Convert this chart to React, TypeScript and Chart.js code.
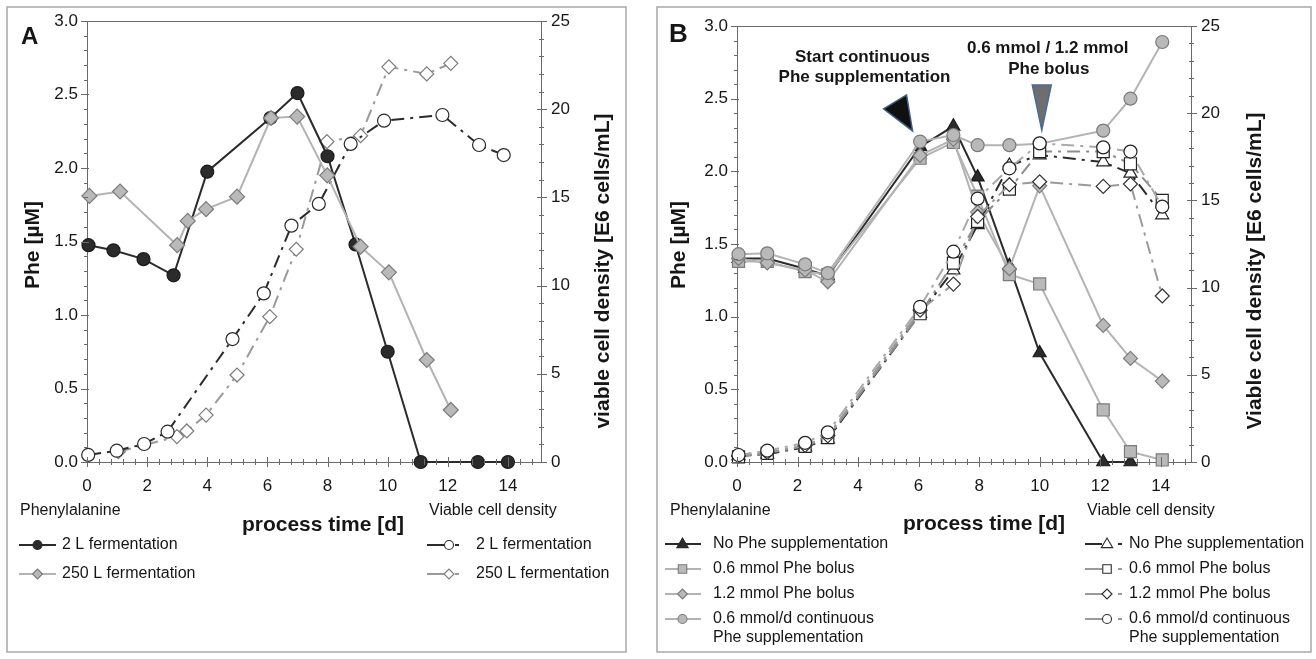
import React, { useEffect, useRef } from "react";
import { Chart, registerables } from "chart.js";

Chart.register(...registerables);

const FONT = "'Liberation Sans', Arial, Helvetica, sans-serif";
const AXIS = "#6a6a6a";
const TEXT = "#161616";
const DARK = "#2b2b2b";
const GRAY_FILL = "#b9b9b9";
const GRAY_EDGE = "#7b7b7b";
const GRAY_LINE = "#b3b3b3";
const DASH_GRAY = "#9a9a9a";
const PANEL_BORDER = "#a8a8a8";

// ---------------- Panel A data ----------------
const A_X_TICKS = [0, 2, 4, 6, 8, 10, 12, 14];
const A_PHE_2L_DAYS = [0.05, 0.88, 1.88, 2.88, 4.0, 6.1, 7.0, 8.0, 8.93, 10.0, 11.1, 13.0, 14.0];
const A_PHE_2L = [1.475, 1.44, 1.38, 1.27, 1.975, 2.34, 2.51, 2.08, 1.48, 0.75, 0, 0, 0];
const A_PHE_250L_DAYS = [0.08, 1.1, 3.0, 3.35, 3.96, 4.99, 6.12, 6.99, 7.99, 9.1, 10.04, 11.3, 12.1];
const A_PHE_250L = [1.81, 1.84, 1.475, 1.64, 1.72, 1.805, 2.34, 2.35, 1.95, 1.465, 1.29, 0.694, 0.354];
const A_VCD_2L_DAYS = [0.04, 0.99, 1.9, 2.68, 4.84, 5.88, 6.8, 7.71, 8.77, 9.88, 11.82, 13.04, 13.86];
const A_VCD_2L = [0.4, 0.64, 1.02, 1.72, 6.97, 9.56, 13.4, 14.63, 18.03, 19.35, 19.67, 17.97, 17.4];
const A_VCD_250L_DAYS = [1.04, 2.99, 3.32, 3.96, 4.99, 6.08, 6.96, 7.98, 9.1, 10.04, 11.3, 12.1];
const A_VCD_250L = [0.58, 1.44, 1.76, 2.66, 4.93, 8.24, 12.06, 18.16, 18.5, 22.4, 22.0, 22.6];

// ---------------- Panel B data ----------------
const B_X_TICKS = [0, 2, 4, 6, 8, 10, 12, 14];
const B_DAYS = [0.05, 1.0, 2.25, 3.0, 6.05, 7.15, 7.95, 9.0, 10.0, 12.1, 13.0, 14.05];
const B_PHE_NONE = [1.4, 1.4, 1.33, 1.28, 2.17, 2.31, 1.96, 1.35, 0.75, 0.0, 0.0];
const B_PHE_BOLUS06 = [1.38, 1.38, 1.31, 1.29, 2.09, 2.2, 1.83, 1.29, 1.225, 0.358, 0.071, 0.014];
const B_PHE_BOLUS12 = [1.4, 1.37, 1.32, 1.24, 2.11, 2.22, 1.72, 1.33, 1.9, 0.94, 0.713, 0.557];
const B_PHE_CONT = [1.43, 1.436, 1.36, 1.3, 2.205, 2.25, 2.18, 2.18, 2.19, 2.28, 2.5, 2.89];
const B_VCD_NONE = [0.35, 0.45, 0.85, 1.3, 8.5, 11.0, 13.6, 17.0, 17.6, 17.2, 16.55, 14.16];
const B_VCD_BOLUS06 = [0.3, 0.5, 0.9, 1.4, 8.5, 11.4, 13.8, 15.65, 17.8, 17.8, 17.1, 15.0];
const B_VCD_BOLUS12 = [0.35, 0.55, 0.95, 1.5, 8.7, 10.2, 14.07, 15.9, 16.07, 15.8, 15.94, 9.52];
const B_VCD_CONT = [0.4, 0.65, 1.1, 1.7, 8.9, 12.06, 15.1, 16.84, 18.27, 18.04, 17.8, 14.64];
const B_ANNOT_START = { day: 5.8, phe: 2.278 };
const B_ANNOT_BOLUS = { day: 10.07, phe: 2.284 };

const Y_LEFT_TICK_STEP = 0.5;
const Y_RIGHT_TICK_STEP = 5;

const pts = (xs: number[], ys: number[]) => ys.map((y, i) => ({ x: xs[i], y }));

type MarkerKind = "circle" | "rectRot" | "rect" | "triangle";

function drawMarker(
  ctx: CanvasRenderingContext2D,
  kind: MarkerKind,
  x: number,
  y: number,
  r: number,
  fill: string,
  stroke: string,
  lw = 1
) {
  ctx.beginPath();
  if (kind === "circle") ctx.arc(x, y, r, 0, Math.PI * 2);
  else if (kind === "rectRot") {
    ctx.moveTo(x - r, y);
    ctx.lineTo(x, y - r);
    ctx.lineTo(x + r, y);
    ctx.lineTo(x, y + r);
    ctx.closePath();
  } else if (kind === "rect") {
    ctx.rect(x - r * 0.85, y - r * 0.85, r * 1.7, r * 1.7);
  } else {
    ctx.moveTo(x, y - r);
    ctx.lineTo(x + r * 0.95, y + r * 0.6);
    ctx.lineTo(x - r * 0.95, y + r * 0.6);
    ctx.closePath();
  }
  ctx.fillStyle = fill;
  ctx.fill();
  ctx.strokeStyle = stroke;
  ctx.lineWidth = lw;
  ctx.stroke();
}

function hline(ctx: CanvasRenderingContext2D, x0: number, x1: number, y: number, color: string, w = 2) {
  ctx.beginPath();
  ctx.moveTo(x0, y);
  ctx.lineTo(x1, y);
  ctx.strokeStyle = color;
  ctx.lineWidth = w;
  ctx.stroke();
}

type LegendItem = {
  lines: string[];
  marker: MarkerKind;
  fill: string;
  stroke: string;
  line: string;
};

type LegendBlock = {
  lineX0: number;
  lineX1: number;
  markerX: number;
  dash?: [number, number];
  textX: number;
  rows: number[];
  items: LegendItem[];
};

type Txt = { text: string; x: number; y: number };

type Spec = {
  border: [number, number, number, number];
  letter: Txt & { size: number };
  leftTitle: Txt;
  rightTitle: Txt;
  xTitle: Txt;
  heads: Txt[];
  legends: LegendBlock[];
  annotate?: (ctx: CanvasRenderingContext2D, chart: any) => void;
};

function drawTicks(ctx: CanvasRenderingContext2D, chart: any) {
  const xs = chart.scales.x;
  const y = chart.scales.y;
  const y1 = chart.scales.y1;
  const { left, right, top, bottom } = chart.chartArea;
  ctx.save();
  ctx.strokeStyle = AXIS;
  ctx.lineWidth = 1;
  // plot frame top
  ctx.beginPath();
  ctx.moveTo(left, Math.round(top) + 0.5);
  ctx.lineTo(right, Math.round(top) + 0.5);
  ctx.stroke();
  // x ticks (minor every 0.4 d, major every 2 d)
  const nx = Math.floor(xs.max / 0.4 + 1e-6);
  for (let i = 0; i <= nx; i++) {
    const major = i % 5 === 0;
    const px = Math.round(xs.getPixelForValue(i * 0.4)) + 0.5;
    ctx.beginPath();
    ctx.moveTo(px, bottom - (major ? 5 : 3));
    ctx.lineTo(px, bottom + (major ? 5 : 3));
    ctx.stroke();
  }
  // left y ticks (minor 0.1)
  for (let i = 0; i <= 30; i++) {
    const major = i % 5 === 0;
    const py = Math.round(y.getPixelForValue(i * 0.1)) + 0.5;
    ctx.beginPath();
    ctx.moveTo(left - (major ? 6 : 3), py);
    ctx.lineTo(left + (major ? 2 : 1), py);
    ctx.stroke();
  }
  // right y ticks (minor 1)
  for (let i = 0; i <= 25; i++) {
    const major = i % 5 === 0;
    const py = Math.round(y1.getPixelForValue(i)) + 0.5;
    ctx.beginPath();
    ctx.moveTo(right - (major ? 4 : 2), py);
    ctx.lineTo(right + (major ? 6 : 3), py);
    ctx.stroke();
  }
  ctx.restore();
}

function makeDecor(spec: Spec) {
  return {
    id: "decor",
    afterDraw(chart: any) {
      const ctx: CanvasRenderingContext2D = chart.ctx;
      drawTicks(ctx, chart);
      ctx.save();
      // panel border
      const [bx0, by0, bx1, by1] = spec.border;
      ctx.strokeStyle = PANEL_BORDER;
      ctx.lineWidth = 1.5;
      ctx.strokeRect(bx0, by0, bx1 - bx0, by1 - by0);

      ctx.fillStyle = TEXT;
      ctx.textBaseline = "alphabetic";
      ctx.textAlign = "left";
      ctx.font = `bold ${spec.letter.size}px ${FONT}`;
      ctx.fillText(spec.letter.text, spec.letter.x, spec.letter.y);

      ctx.textBaseline = "middle";
      ctx.textAlign = "center";
      ctx.font = `bold 21px ${FONT}`;
      for (const t of [spec.leftTitle, spec.rightTitle]) {
        ctx.save();
        ctx.translate(t.x, t.y);
        ctx.rotate(-Math.PI / 2);
        ctx.fillText(t.text, 0, 0);
        ctx.restore();
      }
      ctx.fillText(spec.xTitle.text, spec.xTitle.x, spec.xTitle.y);

      ctx.textAlign = "left";
      ctx.font = `16px ${FONT}`;
      for (const h of spec.heads) ctx.fillText(h.text, h.x, h.y);

      for (const lg of spec.legends) {
        lg.items.forEach((it, i) => {
          const yy = lg.rows[i];
          hline(ctx, lg.lineX0, lg.lineX1, yy, it.line, 2);
          const r = it.marker === "rect" ? 5 : it.marker === "triangle" ? 6 : it.marker === "rectRot" ? 5 : 4.5;
          drawMarker(ctx, it.marker, lg.markerX, yy, r, it.fill, it.stroke, 1.1);
          if (lg.dash) hline(ctx, lg.dash[0], lg.dash[1], yy, it.line, 2);
          ctx.fillStyle = TEXT;
          ctx.font = `16px ${FONT}`;
          it.lines.forEach((ln, k) => ctx.fillText(ln, lg.textX, yy + k * 19));
        });
      }
      if (spec.annotate) spec.annotate(ctx, chart);
      ctx.restore();
    },
  };
}

function scales(leftW: number, rightW: number, xMax: number, xTicks: number[]) {
  const tickFont = { family: FONT, size: 17 };
  const grid = { display: false, drawTicks: false };
  return {
    x: {
      type: "linear",
      min: 0,
      max: xMax,
      grid,
      border: { display: true, color: AXIS, width: 1 },
      ticks: {
        font: tickFont,
        color: TEXT,
        padding: 14,
        autoSkip: false,
        maxRotation: 0,
        callback: (v: any) => String(v),
      },
      afterBuildTicks: (s: any) => {
        s.ticks = xTicks.map((v) => ({ value: v }));
      },
      afterFit: (s: any) => {
        s.height = 197;
      },
    },
    y: {
      type: "linear",
      position: "left",
      min: 0,
      max: 3,
      grid,
      border: { display: true, color: AXIS, width: 1 },
      ticks: {
        stepSize: Y_LEFT_TICK_STEP,
        font: tickFont,
        color: TEXT,
        padding: 9,
        callback: (v: any) => Number(v).toFixed(1),
      },
      afterFit: (s: any) => {
        s.width = leftW;
      },
    },
    y1: {
      type: "linear",
      position: "right",
      min: 0,
      max: 25,
      grid,
      border: { display: true, color: AXIS, width: 1 },
      ticks: {
        stepSize: Y_RIGHT_TICK_STEP,
        font: tickFont,
        color: TEXT,
        padding: 10,
        callback: (v: any) => String(v),
      },
      afterFit: (s: any) => {
        s.width = rightW;
      },
    },
  };
}

const VCD_DASH = [13, 6, 3, 6];

function ds(
  label: string,
  data: { x: number; y: number }[],
  axis: string,
  line: string,
  marker: MarkerKind,
  r: number,
  fill: string,
  edge: string,
  dash: number[] = []
) {
  return {
    type: "line",
    label,
    data,
    yAxisID: axis,
    borderColor: line,
    borderWidth: 2,
    borderDash: dash,
    pointStyle: marker,
    pointRadius: r,
    pointBackgroundColor: fill,
    pointBorderColor: edge,
    pointBorderWidth: 1.2,
    tension: 0,
    clip: false,
  };
}

function configA() {
  const spec: Spec = {
    border: [7, 7, 626, 652],
    letter: { text: "A", x: 21, y: 44, size: 24 },
    leftTitle: { text: "Phe [\u00b5M]", x: 33, y: 245 },
    rightTitle: { text: "viable cell density [E6 cells/mL]", x: 603, y: 271 },
    xTitle: { text: "process time [d]", x: 323, y: 525 },
    heads: [
      { text: "Phenylalanine", x: 20, y: 511 },
      { text: "Viable cell density", x: 429, y: 511 },
    ],
    legends: [
      {
        lineX0: 19,
        lineX1: 56,
        markerX: 37.5,
        textX: 62,
        rows: [545, 574],
        items: [
          { lines: ["2 L fermentation"], marker: "circle", fill: DARK, stroke: DARK, line: DARK },
          { lines: ["250 L fermentation"], marker: "rectRot", fill: GRAY_FILL, stroke: GRAY_EDGE, line: GRAY_LINE },
        ],
      },
      {
        lineX0: 427,
        lineX1: 444,
        markerX: 449,
        dash: [455, 459],
        textX: 476,
        rows: [545, 574],
        items: [
          { lines: ["2 L fermentation"], marker: "circle", fill: "#fff", stroke: DARK, line: DARK },
          { lines: ["250 L fermentation"], marker: "rectRot", fill: "#fff", stroke: GRAY_EDGE, line: DASH_GRAY },
        ],
      },
    ],
  };
  return {
    type: "line",
    data: {
      datasets: [
        ds("Phe 250 L fermentation", pts(A_PHE_250L_DAYS, A_PHE_250L), "y", GRAY_LINE, "rectRot", 7.5, GRAY_FILL, GRAY_EDGE),
        ds("Phe 2 L fermentation", pts(A_PHE_2L_DAYS, A_PHE_2L), "y", DARK, "circle", 6.5, DARK, "#1a1a1a"),
        ds("VCD 2 L fermentation", pts(A_VCD_2L_DAYS, A_VCD_2L), "y1", DARK, "circle", 6.5, "#fff", DARK, VCD_DASH),
        ds("VCD 250 L fermentation", pts(A_VCD_250L_DAYS, A_VCD_250L), "y1", DASH_GRAY, "rectRot", 7, "#fff", GRAY_EDGE, VCD_DASH),
      ],
    },
    options: {
      responsive: false,
      animation: false,
      devicePixelRatio: 1,
      events: [],
      layout: { padding: { top: 21, left: 0, right: 0, bottom: 0 } },
      plugins: { legend: { display: false }, tooltip: { enabled: false } },
      scales: scales(87, 640 - 541, 15.1, A_X_TICKS),
    },
    plugins: [makeDecor(spec)],
  };
}

function configB() {
  const annotate = (ctx: CanvasRenderingContext2D, chart: any) => {
    const xs = chart.scales.x;
    const y = chart.scales.y;
    // start continuous supplementation arrow
    const tx = xs.getPixelForValue(B_ANNOT_START.day);
    const ty = y.getPixelForValue(B_ANNOT_START.phe);
    ctx.beginPath();
    ctx.moveTo(tx - 29, ty - 22);
    ctx.lineTo(tx - 6, ty - 36);
    ctx.lineTo(tx, ty);
    ctx.closePath();
    ctx.fillStyle = "#101010";
    ctx.fill();
    ctx.strokeStyle = "#3d5f86";
    ctx.lineWidth = 1.5;
    ctx.stroke();
    // bolus arrow
    const bx = xs.getPixelForValue(B_ANNOT_BOLUS.day);
    const by = y.getPixelForValue(B_ANNOT_BOLUS.phe);
    ctx.beginPath();
    ctx.moveTo(bx - 9.5, by - 45);
    ctx.lineTo(bx + 9.5, by - 45);
    ctx.lineTo(bx, by);
    ctx.closePath();
    ctx.fillStyle = "#6e6e6e";
    ctx.fill();
    ctx.strokeStyle = "#4a6a98";
    ctx.lineWidth = 1.5;
    ctx.stroke();
    ctx.fillStyle = TEXT;
    ctx.font = `bold 17px ${FONT}`;
    ctx.textAlign = "center";
    ctx.textBaseline = "middle";
    ctx.fillText("Start continuous", tx - 50, ty - 74);
    ctx.fillText("Phe supplementation", tx - 48, ty - 54);
    ctx.fillText("0.6 mmol / 1.2 mmol", bx + 6, by - 82);
    ctx.fillText("Phe bolus", bx + 7, by - 61);
  };
  const spec: Spec = {
    border: [12, 7, 666, 652],
    letter: { text: "B", x: 24, y: 42, size: 26 },
    leftTitle: { text: "Phe [\u00b5M]", x: 34, y: 245 },
    rightTitle: { text: "Viable cell density [E6 cells/mL]", x: 610, y: 271 },
    xTitle: { text: "process time [d]", x: 339, y: 524 },
    heads: [
      { text: "Phenylalanine", x: 25, y: 511 },
      { text: "Viable cell density", x: 442, y: 511 },
    ],
    legends: [
      {
        lineX0: 20,
        lineX1: 56,
        markerX: 37.5,
        textX: 68,
        rows: [544, 569, 594, 619],
        items: [
          { lines: ["No Phe supplementation"], marker: "triangle", fill: DARK, stroke: DARK, line: DARK },
          { lines: ["0.6 mmol Phe bolus"], marker: "rect", fill: GRAY_FILL, stroke: GRAY_EDGE, line: GRAY_LINE },
          { lines: ["1.2 mmol Phe bolus"], marker: "rectRot", fill: GRAY_FILL, stroke: GRAY_EDGE, line: GRAY_LINE },
          {
            lines: ["0.6 mmol/d continuous", "Phe supplementation"],
            marker: "circle",
            fill: GRAY_FILL,
            stroke: GRAY_EDGE,
            line: GRAY_LINE,
          },
        ],
      },
      {
        lineX0: 440,
        lineX1: 457,
        markerX: 462,
        dash: [473, 477],
        textX: 484,
        rows: [544, 569, 594, 619],
        items: [
          { lines: ["No Phe supplementation"], marker: "triangle", fill: "#fff", stroke: DARK, line: DARK },
          { lines: ["0.6 mmol Phe bolus"], marker: "rect", fill: "#fff", stroke: DARK, line: DASH_GRAY },
          { lines: ["1.2 mmol Phe bolus"], marker: "rectRot", fill: "#fff", stroke: DARK, line: DASH_GRAY },
          {
            lines: ["0.6 mmol/d continuous", "Phe supplementation"],
            marker: "circle",
            fill: "#fff",
            stroke: DARK,
            line: DASH_GRAY,
          },
        ],
      },
    ],
    annotate,
  };
  return {
    type: "line",
    data: {
      datasets: [
        ds("VCD continuous", pts(B_DAYS, B_VCD_CONT), "y1", "#a9a9a9", "circle", 6.5, "#fff", "#222", VCD_DASH),
        ds("VCD 1.2 mmol bolus", pts(B_DAYS, B_VCD_BOLUS12), "y1", DASH_GRAY, "rectRot", 7, "#fff", "#333", VCD_DASH),
        ds("VCD 0.6 mmol bolus", pts(B_DAYS, B_VCD_BOLUS06), "y1", "#8c8c8c", "rect", 8.5, "#fff", "#222", VCD_DASH),
        ds("VCD no Phe", pts(B_DAYS, B_VCD_NONE), "y1", DARK, "triangle", 7.5, "#fff", "#222", VCD_DASH),
        ds("Phe continuous", pts(B_DAYS, B_PHE_CONT), "y", GRAY_LINE, "circle", 6.5, GRAY_FILL, GRAY_EDGE),
        ds("Phe 1.2 mmol bolus", pts(B_DAYS, B_PHE_BOLUS12), "y", GRAY_LINE, "rectRot", 7, GRAY_FILL, GRAY_EDGE),
        ds("Phe 0.6 mmol bolus", pts(B_DAYS, B_PHE_BOLUS06), "y", GRAY_LINE, "rect", 8.5, GRAY_FILL, GRAY_EDGE),
        ds("Phe no supplementation", pts(B_DAYS, B_PHE_NONE), "y", DARK, "triangle", 7.5, DARK, "#1a1a1a"),
      ],
    },
    options: {
      responsive: false,
      animation: false,
      devicePixelRatio: 1,
      events: [],
      layout: { padding: { top: 26, left: 0, right: 0, bottom: 0 } },
      plugins: { legend: { display: false }, tooltip: { enabled: false } },
      scales: scales(92, 671 - 546, 15, B_X_TICKS),
    },
    plugins: [makeDecor(spec)],
  };
}

function Panel({ make, left, width }: { make: () => any; left: number; width: number }) {
  const ref = useRef<HTMLCanvasElement>(null);
  useEffect(() => {
    const chart = new Chart(ref.current as HTMLCanvasElement, make());
    return () => chart.destroy();
  }, []);
  return (
    <canvas
      ref={ref}
      width={width}
      height={659}
      style={{ position: "absolute", left, top: 0, width, height: 659 }}
    />
  );
}

export default function App() {
  return (
    <div
      style={{
        position: "absolute",
        left: 0,
        top: 0,
        width: 1316,
        height: 659,
        background: "#fff",
        overflow: "hidden",
      }}
    >
      <Panel make={configA} left={0} width={640} />
      <Panel make={configB} left={645} width={671} />
    </div>
  );
}
